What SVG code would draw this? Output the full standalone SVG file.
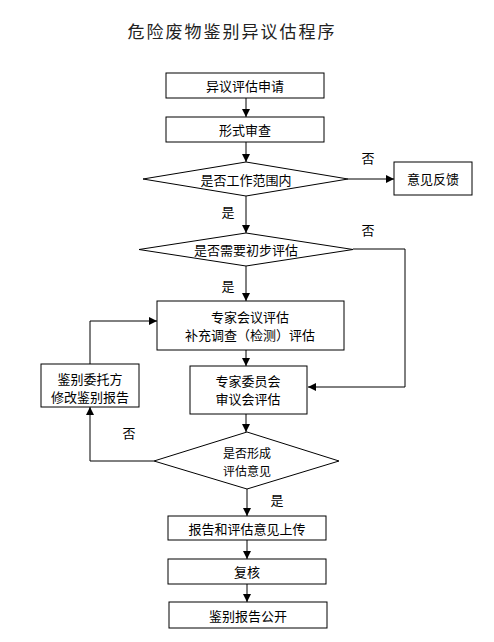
<svg xmlns="http://www.w3.org/2000/svg" width="494" height="642" viewBox="0 0 494 642">
<defs>
<style>
.n{fill:#fff;stroke:#000;stroke-width:1}
.t{font-family:"Noto Sans CJK SC","Noto Sans",sans-serif;font-size:13px;fill:#000;text-anchor:middle;dominant-baseline:central}
.s{font-size:12px}
.c{fill:none;stroke:#000;stroke-width:1}
.title{font-family:"Noto Sans CJK SC",sans-serif;font-size:17px;fill:#222;text-anchor:middle;dominant-baseline:central;letter-spacing:2px}
</style>
<marker id="a" viewBox="0 0 10 10" refX="10" refY="5" markerWidth="8" markerHeight="8" markerUnits="userSpaceOnUse" orient="auto">
<path d="M0,0 L10,5 L0,10 Z" fill="#000"/>
</marker>
</defs>
<rect width="494" height="642" fill="#fff"/>
<text class="title" x="232" y="30">危险废物鉴别异议估程序</text>
<g id="connectors">
<line class="c" x1="246" y1="98" x2="246" y2="117" marker-end="url(#a)"/>
<line class="c" x1="246" y1="142" x2="246" y2="162" marker-end="url(#a)"/>
<line class="c" x1="348" y1="179" x2="394" y2="179" marker-end="url(#a)"/>
<line class="c" x1="246" y1="196" x2="246" y2="233" marker-end="url(#a)"/>
<polyline class="c" points="353,249 405,249 405,387 308,387" marker-end="url(#a)"/>
<line class="c" x1="246" y1="266" x2="246" y2="301" marker-end="url(#a)"/>
<line class="c" x1="246" y1="350" x2="246" y2="366" marker-end="url(#a)"/>
<polyline class="c" points="90,364 90,321 157,321" marker-end="url(#a)"/>
<line class="c" x1="246" y1="414" x2="246" y2="432" marker-end="url(#a)"/>
<polyline class="c" points="154,461 90,461 90,407" marker-end="url(#a)"/>
<line class="c" x1="247" y1="489" x2="247" y2="516" marker-end="url(#a)"/>
<line class="c" x1="247" y1="540" x2="247" y2="559" marker-end="url(#a)"/>
<line class="c" x1="247" y1="584" x2="247" y2="602" marker-end="url(#a)"/>
<text class="t" x="368" y="157">否</text>
<text class="t" x="228" y="211">是</text>
<text class="t" x="368" y="229">否</text>
<text class="t" x="228" y="285">是</text>
<text class="t" x="129" y="432">否</text>
<text class="t" x="277" y="499">是</text>
</g>
<g id="n1"><rect class="n" x="166" y="73" width="158" height="25"/><text class="t" x="245" y="85.5">异议评估申请</text></g>
<g id="n2"><rect class="n" x="166" y="117" width="158" height="25"/><text class="t" x="245" y="129.5">形式审查</text></g>
<g id="d1"><polygon class="n" points="246,162 348,179 246,196 143,179"/><text class="t" x="246" y="179">是否工作范围内</text></g>
<g id="n3"><rect class="n" x="394" y="162" width="78" height="33"/><text class="t" x="433" y="178.5">意见反馈</text></g>
<g id="d2"><polygon class="n" points="246,233 353,249.5 246,266 139,249.5"/><text class="t" x="246" y="249.5">是否需要初步评估</text></g>
<g id="n4"><rect class="n" x="157" y="301" width="187" height="49"/><text class="t" x="250" y="316">专家会议评估</text><text class="t" x="250" y="334">补充调查（检测）评估</text></g>
<g id="n5"><rect class="n" x="190" y="366" width="117" height="48"/><text class="t" x="248" y="380">专家委员会</text><text class="t" x="248" y="398">审议会评估</text></g>
<g id="n6"><rect class="n" x="41" y="364" width="98" height="43"/><text class="t" x="90" y="378">鉴别委托方</text><text class="t" x="90" y="396">修改鉴别报告</text></g>
<g id="d3"><polygon class="n" points="247,432 339,461 247,489 154,461"/><text class="t s" x="247" y="452">是否形成</text><text class="t s" x="247" y="470">评估意见</text></g>
<g id="n7"><rect class="n" x="168" y="516" width="158" height="24"/><text class="t" x="247" y="528">报告和评估意见上传</text></g>
<g id="n8"><rect class="n" x="168" y="559" width="158" height="25"/><text class="t" x="247" y="571.5">复核</text></g>
<g id="n9"><rect class="n" x="169" y="602" width="158" height="26"/><text class="t" x="248" y="615">鉴别报告公开</text></g>
</svg>
